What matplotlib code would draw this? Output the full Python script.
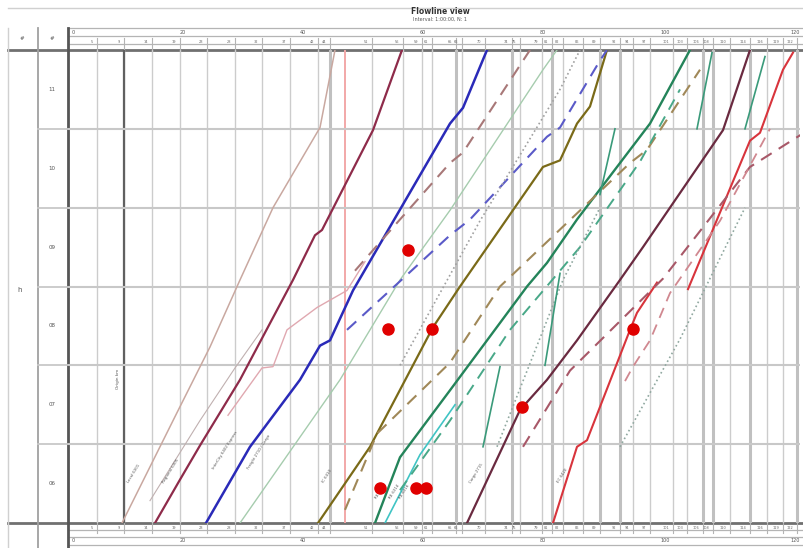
import matplotlib
matplotlib.use("Agg")
import matplotlib.pyplot as plt

# distance along the route (km) and time (minutes from the start of the window)
stations = [97, 124, 152, 180, 207, 235, 262, 290, 318, 330, 372, 403, 422, 432,
            456, 462, 485, 512, 520, 542, 552, 563, 583, 600, 620, 633, 650, 673,
            687, 703, 713, 730, 750, 767, 783, 797]
heavy_stations = [330, 456, 512, 552, 600, 620, 703, 713, 750, 797]
hour_labels = ["06", "07", "08", "09", "10", "11"]
km_labels = ["0", "20", "40", "60", "80", "100", "120"]
km_label_pos = [72, 180, 300, 420, 540, 660, 790]

# solid train paths
tan_km = [122, 177, 210, 240, 273, 320, 335]
tan_t = [0, 84, 134, 185, 240, 301, 360]
grey_km = [150, 200, 235, 262]
grey_t = [17, 78, 118, 147]
pink_km = [228, 262, 273, 287, 317, 347, 365]
pink_t = [82, 118, 119, 147, 164, 177, 199]
maroon_km = [155, 180, 200, 240, 293, 315, 322, 373, 402]
maroon_t = [0, 33, 59, 109, 185, 219, 223, 299, 360]
blue_km = [206, 250, 300, 320, 330, 353, 450, 463, 487]
blue_t = [0, 58, 109, 135, 139, 177, 304, 316, 360]
lgreen_km = [240, 340, 400, 450, 543, 557]
lgreen_t = [0, 109, 185, 238, 345, 360]
olive_km = [318, 370, 433, 460, 543, 560, 577, 590, 607]
olive_t = [0, 58, 149, 180, 271, 276, 304, 317, 360]
green_km = [375, 400, 450, 527, 547, 577, 637, 650, 690]
green_t = [0, 50, 101, 180, 198, 231, 291, 304, 360]
cyan_km = [385, 420, 455]
cyan_t = [0, 52, 90]
plum_km = [467, 520, 547, 577, 620, 643, 723, 750]
plum_t = [0, 86, 109, 139, 185, 210, 299, 360]
red1_km = [553, 577, 587, 630, 637, 657]
red1_t = [0, 58, 63, 147, 160, 183]
red2_km = [688, 750, 760, 783, 793]
red2_t = [178, 291, 297, 345, 358]

# dashed paths
bdash1_km = [355, 393, 450, 463, 530]
bdash1_t = [192, 225, 274, 282, 360]
bluedash_km = [347, 390, 450, 470, 547, 560, 600, 607]
bluedash_t = [147, 177, 219, 231, 294, 301, 352, 360]
bdash2_km = [345, 377, 450, 500, 630, 647, 700]
bdash2_t = [10, 68, 122, 180, 274, 284, 345]
gdash_km = [400, 450, 510, 580, 640, 680]
gdash_t = [25, 78, 147, 210, 275, 330]
mdash_km = [523, 570, 663, 750, 804]
mdash_t = [58, 116, 186, 271, 297]
pdash_km = [625, 633, 650, 670, 720, 770]
pdash_t = [108, 119, 139, 175, 230, 300]

# dotted paths
dot1_km = [497, 563, 600]
dot1_t = [58, 185, 240]
dot2_km = [400, 480, 560, 580]
dot2_t = [120, 230, 330, 360]
dot3_km = [620, 680, 745]
dot3_t = [58, 140, 240]

# short steep segments
seg_km = [[483, 500], [545, 560], [600, 615], [697, 712], [745, 765]]
seg_t = [[58, 119], [120, 190], [250, 300], [300, 358], [300, 355]]

# stops (red markers)
stop_km = [408, 388, 432, 522, 633, 380, 416, 426]
stop_t = [208, 148, 148, 88, 148, 27, 27, 27]

# labels along the start of each path
lab_km = [130, 165, 215, 250, 325, 378, 392, 402, 472, 560]
lab_t = [30, 30, 40, 40, 30, 18, 18, 18, 30, 30]
lab_txt = ["Local 6301", "Regional 6305", "InterCity 6402 Express", "Freight 2710 / Cargo",
           "IC 6410", "RE 6312", "RE 6314", "RE 6316", "Cargo 2715", "EC 6420"]

fig = plt.figure(figsize=(8.04, 5.48), dpi=100)

# frame in pixel units for the header and left panel
frame = fig.add_axes([0, 0, 1, 1])
frame.set_xlim(0, 804)
frame.set_ylim(548, 0)
frame.axis("off")

gline = "#b4b4b4"
frame.plot([8, 804], [8, 8], color="#d0d0d0", lw=1)
for y in [28, 36, 44]:
    frame.plot([68, 804], [y, y], color=gline, lw=0.9)
for y in [530, 537, 545]:
    frame.plot([68, 804], [y, y], color=gline, lw=0.9)
frame.plot([8, 804], [50, 50], color="#707070", lw=2)
frame.plot([8, 804], [523, 523], color="#707070", lw=2)
frame.plot([8, 8], [28, 548], color="#d0d0d0", lw=1)
frame.plot([38, 38], [28, 548], color="#a0a0a0", lw=1.3)
frame.plot([68, 68], [28, 548], color="#555555", lw=2)
for x in stations:
    frame.plot([x, x], [38, 50], color=gline, lw=0.8)
    frame.plot([x, x], [523, 533], color=gline, lw=0.8)
    frame.text(x - 4, 42, str(round((x - 68) / 6)), fontsize=2.5, color="#666666",
               ha="right", va="center")
    frame.text(x - 4, 528, str(round((x - 68) / 6)), fontsize=2.5, color="#666666",
               ha="right", va="center")
for x, s in zip(km_label_pos, km_labels):
    frame.text(x, 33, s, fontsize=3.5, color="#555555", ha="left", va="center")
    frame.text(x, 541, s, fontsize=3.5, color="#555555", ha="left", va="center")
frame.text(22, 38, "#", fontsize=4, color="#555555", ha="center", va="center")
frame.text(52, 38, "#", fontsize=4, color="#555555", ha="center", va="center")
frame.text(20, 290, "h", fontsize=5, color="#555555", ha="center", va="center")
frame.text(440, 12, "Flowline view", fontsize=5.5, fontweight="bold", color="#333333",
           ha="center", va="center")
frame.text(440, 19, "Interval: 1:00:00, N: 1", fontsize=3.5, color="#555555",
           ha="center", va="center")
for i in range(1, 6):
    y = 523 - i * 473 / 6
    frame.plot([38, 68], [y, y], color="#c8c8c8", lw=1.3)
for i, s in enumerate(hour_labels):
    y = 523 - (i + 0.5) * 473 / 6
    frame.text(52, y, s, fontsize=4, color="#555555", ha="center", va="center")

# main time-distance panel
ax = fig.add_axes([68 / 804, 25 / 548, 732 / 804, 473 / 548])
ax.set_xlim(68, 800)
ax.set_ylim(0, 360)
ax.set_xticks([])
ax.set_yticks([])
for sp in ax.spines.values():
    sp.set_visible(False)
ax.patch.set_alpha(0)

for x in stations:
    if x in heavy_stations:
        ax.axvline(x, color="#c0c0c0", lw=2.2, zorder=0)
    else:
        ax.axvline(x, color="#cccccc", lw=1.0, zorder=0)
ax.axvline(124, color="#606060", lw=1.6, zorder=0)
ax.axvline(345, color="#f2a8a8", lw=1.4, zorder=0)
for h in range(60, 360, 60):
    ax.axhline(h, color="#c8c8c8", lw=1.5, zorder=0)

ax.plot(tan_km, tan_t, color="#c9a8a0", lw=1.1)
ax.plot(grey_km, grey_t, color="#c0b0b0", lw=0.8)
ax.plot(pink_km, pink_t, color="#e0a8b0", lw=1.0)
ax.plot(maroon_km, maroon_t, color="#8e2b4a", lw=1.6)
ax.plot(blue_km, blue_t, color="#2a2ab8", lw=1.8)
ax.plot(lgreen_km, lgreen_t, color="#a6ccae", lw=1.0)
ax.plot(olive_km, olive_t, color="#7a6a18", lw=1.6)
ax.plot(green_km, green_t, color="#24845a", lw=1.7)
ax.plot(cyan_km, cyan_t, color="#40c4c4", lw=1.2)
ax.plot(plum_km, plum_t, color="#6a2a40", lw=1.6)
ax.plot(red1_km, red1_t, color="#d8343c", lw=1.5)
ax.plot(red2_km, red2_t, color="#d8343c", lw=1.5)

dash = (0, (6, 4))
ax.plot(bdash1_km, bdash1_t, color="#a87878", lw=1.5, linestyle=dash)
ax.plot(bluedash_km, bluedash_t, color="#5a5ac8", lw=1.5, linestyle=dash)
ax.plot(bdash2_km, bdash2_t, color="#a08858", lw=1.5, linestyle=dash)
ax.plot(gdash_km, gdash_t, color="#48a888", lw=1.4, linestyle=dash)
ax.plot(mdash_km, mdash_t, color="#a85868", lw=1.5, linestyle=dash)
ax.plot(pdash_km, pdash_t, color="#d08890", lw=1.3, linestyle=dash)

ax.plot(dot1_km, dot1_t, color="#90a8a0", lw=1.2, linestyle=":")
ax.plot(dot2_km, dot2_t, color="#a0a0a0", lw=1.2, linestyle=":")
ax.plot(dot3_km, dot3_t, color="#90a8a0", lw=1.2, linestyle=":")

for xs, ts in zip(seg_km, seg_t):
    ax.plot(xs, ts, color="#3a9a7a", lw=1.2)

ax.plot(stop_km, stop_t, "o", color="#e00000", ms=8, zorder=5)

for x, t, s in zip(lab_km, lab_t, lab_txt):
    ax.text(x, t, s, fontsize=2.8, color="#555555", rotation=58,
            rotation_mode="anchor", ha="left", va="bottom")

ax.text(118, 110, "Origin km", fontsize=3, color="#555555", rotation=90,
        ha="center", va="center")

fig.savefig("out.png", dpi=100)
